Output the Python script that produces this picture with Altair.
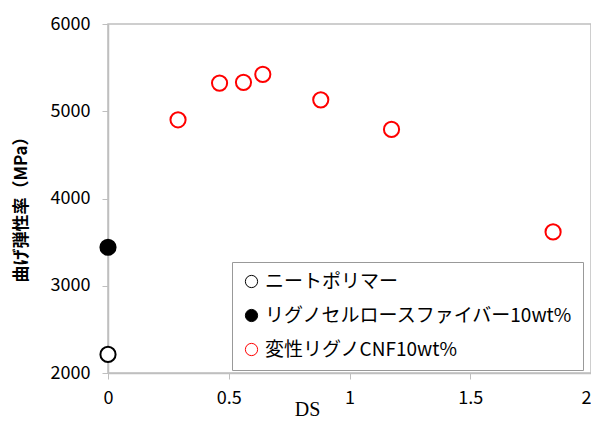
import altair as alt
import pandas as pd

series_names = ["ニートポリマー", "リグノセルロースファイバー10wt%", "変性リグノCNF10wt%"]

neat_ds = [0.0]
neat_val = [2213]

lcf_ds = [0.0]
lcf_val = [3441]

mod_ds = [0.29, 0.462, 0.561, 0.641, 0.881, 1.174, 1.843]
mod_val = [4902, 5323, 5331, 5423, 5131, 4792, 3617]

stroke_colors = ["#000000", "#000000", "#FF0000"]
fill_colors = ["#FFFFFF", "#000000", "#FFFFFF"]

x_ticks = [0, 0.5, 1, 1.5, 2]
y_ticks = [2000, 3000, 4000, 5000, 6000]

rows = []
for d, v in zip(neat_ds, neat_val):
    rows.append({"DS": d, "val": v, "series": series_names[0]})
for d, v in zip(lcf_ds, lcf_val):
    rows.append({"DS": d, "val": v, "series": series_names[1]})
for d, v in zip(mod_ds, mod_val):
    rows.append({"DS": d, "val": v, "series": series_names[2]})
df = pd.DataFrame(rows)

font = "Noto Sans CJK JP"

legend = alt.Legend(
    title=None,
    orient="none",
    legendX=124,
    legendY=238,
    direction="vertical",
    strokeColor="#999999",
    fillColor="#FFFFFF",
    padding=10,
    labelFont=font,
    labelFontSize=19,
    labelColor="#000000",
    labelLimit=400,
    symbolSize=150,
    symbolStrokeWidth=1,
    symbolOpacity=1,
    rowPadding=14,
    labelOffset=4,
)

chart = alt.Chart(df).mark_point(
    size=230, strokeWidth=2, opacity=1, filled=False, clip=False
).encode(
    x=alt.X(
        "DS:Q",
        scale=alt.Scale(domain=[0, 2], nice=False, zero=False),
        axis=alt.Axis(
            values=x_ticks,
            format="~g",
            title="DS",
            titleFont="Liberation Serif",
            titleFontSize=20,
            titleFontWeight="normal",
            titleColor="#000000",
            titleX=199,
            titleY=42,
            titleBaseline="alphabetic",
            titleAlign="center",
            labelFont=font,
            labelFontSize=18,
            labelColor="#000000",
            labelPadding=10,
            labelFlush=False,
            labelAlign={"condition": {"test": "datum.value == 2", "value": "right"}, "value": "center"},
            domainColor="#BFBFBF",
            domainWidth=1.5,
            tickColor="#BFBFBF",
            tickSize=6,
            grid=False,
        ),
    ),
    y=alt.Y(
        "val:Q",
        scale=alt.Scale(domain=[2000, 6000], nice=False, zero=False),
        axis=alt.Axis(
            values=y_ticks,
            format="d",
            title="曲げ弾性率（MPa）",
            titleFont=font,
            titleFontSize=17,
            titleFontWeight="bold",
            titleColor="#000000",
            titleX=-87,
            titleY=181,
            titleBaseline="middle",
            titleAlign="center",
            labelFont=font,
            labelFontSize=18,
            labelColor="#000000",
            labelPadding=12,
            domainColor="#BFBFBF",
            domainWidth=1.5,
            tickColor="#BFBFBF",
            tickSize=6,
            grid=False,
        ),
    ),
    stroke=alt.Stroke(
        "series:N",
        scale=alt.Scale(domain=series_names, range=stroke_colors),
        legend=legend,
    ),
    fill=alt.Fill(
        "series:N",
        scale=alt.Scale(domain=series_names, range=fill_colors),
        legend=legend,
    ),
).properties(
    width=483,
    height=349,
    autosize=alt.AutoSizeParams(type="none"),
    padding={"left": 100, "top": 16, "right": 0, "bottom": 46},
).configure_view(
    stroke="#BFBFBF",
    strokeWidth=1.5,
)

chart.save("out.html", embed_options={"renderer": "svg", "actions": False})
